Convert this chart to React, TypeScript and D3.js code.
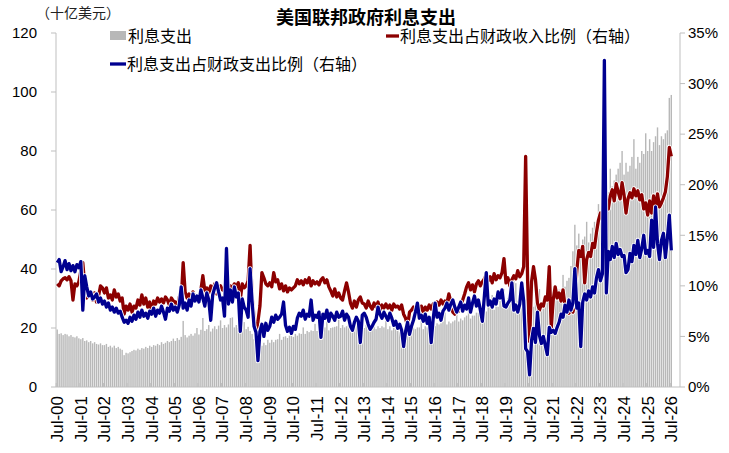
import React from "react";
import * as d3 from "d3";

// monthly categories, Jul-00 .. Jul-26
const monthNames = ["Jul", "Aug", "Sep", "Oct", "Nov", "Dec", "Jan", "Feb", "Mar", "Apr", "May", "Jun"];
const categories: string[] = [];
for (let k = 0; k <= 26; k++) {
  monthNames.forEach((m, j) => {
    const yy = k + (j >= 6 ? 1 : 0);
    categories.push(`${m}-${String(yy).padStart(2, "0")}`);
  });
}
categories.length = 313;

const tickLabels = [
  "Jul-00", "Jul-01", "Jul-02", "Jul-03", "Jul-04", "Jul-05", "Jul-06", "Jul-07", "Jul-08",
  "Jul-09", "Jul-10", "Jul-11", "Jul-12", "Jul-13", "Jul-14", "Jul-15", "Jul-16", "Jul-17",
  "Jul-18", "Jul-19", "Jul-20", "Jul-21", "Jul-22", "Jul-23", "Jul-24", "Jul-25", "Jul-26",
];

// 利息支出 (十亿美元), one row per Jul..Jun
const interest = [
  19.5, 18, 18.2, 17.6, 18, 17.8, 17.2, 17.6, 17, 16.8, 17.2, 16.5,
  16.2, 16.6, 15.6, 15.8, 15.2, 15.6, 14.8, 15.2, 14.6, 14.4, 14.8, 14.2,
  14.2, 14.6, 13.6, 14, 13.4, 14, 13.2, 13.6, 13, 12.6, 10.8, 11.6,
  11.4, 11.8, 12.2, 12.6, 12.4, 13, 12.6, 13.2, 13, 13.6, 13.2, 14,
  13.6, 14.2, 14, 14.6, 14.2, 15.2, 14.6, 15, 15.6, 15.2, 15.6, 16.4,
  15.6, 16.6, 16, 17, 22.4, 17.6, 16.8, 17.4, 18, 17.4, 18.2, 20,
  17.8, 19.4, 23.4, 19, 19.6, 21, 18.8, 19.8, 20.6, 19.6, 20.8, 22.6,
  20, 21, 20.2, 21.2, 23.4, 23.6, 20.2, 21, 20, 21.4, 20.6, 22,
  19.6, 20.4, 19, 18, 16.2, 16.8, 14.8, 15.2, 14, 15, 14.2, 16,
  15, 16, 15.2, 16, 16.2, 18, 16, 17, 17.2, 16.6, 17.4, 19,
  17, 18, 17.4, 18.2, 18, 20.2, 18, 19, 18.6, 19.2, 19, 21.4,
  19, 20, 19.2, 20, 20.2, 22.2, 19.2, 20, 20.2, 20.4, 20.6, 22.8,
  20, 21, 20.2, 20.6, 21, 23.2, 20.2, 21, 20.6, 21.2, 21, 23.2,
  20, 21, 19.6, 20.2, 20.6, 23, 19.6, 20.6, 20, 20.6, 20.2, 22.6,
  19.6, 20.6, 19.2, 20, 19.6, 22.2, 18.6, 19.6, 18.2, 19.2, 19.6, 22.2,
  19.2, 20.2, 19.6, 20.2, 20.2, 23.2, 19.6, 20.6, 20.2, 21.2, 21.2, 24.2,
  20.6, 21.6, 21.2, 21.6, 22.2, 25.2, 21.2, 22.2, 21.6, 22.2, 22.6, 26.2,
  22.2, 23.2, 22.6, 23.6, 24.2, 27.2, 23.2, 24.2, 24.2, 25.2, 25.2, 29.2,
  25.2, 26.2, 25.6, 27.2, 27.2, 31.2, 26.2, 27.6, 27.2, 29.2, 29.2, 33.2,
  28.2, 30.2, 29.2, 30.2, 36, 35.2, 29.2, 31.2, 30.2, 28.2, 27.2, 34.2,
  27.2, 28.2, 27.2, 28.6, 28.2, 33.2, 27.2, 29.2, 28.6, 30.2, 30.2, 36.2,
  31, 32, 30, 33, 33, 38, 34, 36, 37, 41, 46, 55,
  48, 52, 47, 50, 51, 56, 49, 52, 54, 56, 55, 62,
  58, 63, 62, 65, 66, 74, 68, 70, 72, 74, 76, 80,
  72, 76, 73, 75, 78, 84, 74, 78, 76, 80, 79, 86,
  80, 84, 80, 83, 85, 88, 82, 85, 84, 86, 87, 98,
  99,
];

// 利息支出占财政收入比例 (%)
const revenueShare = [
  10.2, 10.0, 10.5, 10.7, 10.8, 10.6, 10.9, 10.5, 8.6, 10.2, 10.0, 10.4,
  11.5, 12.3, 10.0, 8.8, 9.5, 9.0, 8.6, 9.3, 8.4, 9.0, 10.0, 9.8,
  9.3, 9.8, 8.8, 9.1, 8.6, 9.6, 8.9, 9.2, 8.5, 8.8, 7.2, 8.0,
  7.6, 8.2, 7.4, 8.0, 7.8, 8.6, 8.1, 9.1, 8.2, 8.8, 7.9, 8.4,
  7.4, 8.5, 8.2, 8.8, 8.4, 8.7, 8.3, 8.9, 8.6, 8.1, 8.8, 8.5,
  8.4, 7.9, 8.9, 8.6, 12.3, 9.4, 8.8, 9.2, 8.5, 9.4, 8.8, 9.0,
  8.9, 9.6, 11.0, 9.5, 9.8, 9.3, 10.0, 9.4, 10.2, 9.2, 9.8, 10.0,
  9.6, 9.5, 9.8, 10.1, 10.0, 9.7, 10.2, 9.9, 10.3, 8.6, 10.2, 9.8,
  10.0, 10.5, 14.0, 9.0, 6.9, 5.3, 6.5, 8.0, 11.3, 10.8, 10.2, 10.0,
  10.3, 9.9, 11.3, 10.4, 10.6, 9.7, 10.2, 9.5, 10.0, 9.4, 9.8, 9.6,
  9.8, 10.0, 10.6, 10.2, 10.5, 10.1, 10.6, 10.3, 10.8, 10.0, 10.5, 10.2,
  10.4, 10.1, 10.6, 10.8, 10.3, 10.6, 9.9, 9.5, 9.0, 9.7, 8.9, 9.3,
  8.8, 8.6, 9.5, 10.3, 9.4, 8.3, 7.8, 8.5, 7.9, 8.6, 8.9, 8.3,
  8.2, 7.8, 8.5, 8.0, 7.7, 8.3, 7.9, 8.4, 7.6, 8.1, 7.8, 8.2,
  7.8, 8.1, 7.6, 8.2, 7.9, 8.0, 7.7, 8.1, 7.2, 6.8, 6.0, 7.4,
  7.6, 7.9, 7.3, 7.8, 7.5, 8.0, 7.4, 7.9, 7.6, 8.1, 7.7, 8.2,
  8.0, 8.4, 8.1, 8.6, 8.2, 8.5, 8.3, 9.2, 8.4, 7.4, 7.2, 7.6,
  7.5, 7.9, 8.6, 9.2, 9.9, 10.3, 9.6, 10.1, 9.4, 10.2, 10.5, 10.0,
  10.4, 10.7, 11.1, 10.5, 10.9, 10.3, 11.2, 10.6, 11.0, 10.8, 11.3, 12.7,
  10.3, 10.8, 10.0, 10.6, 11.0, 10.7, 11.5, 10.9, 11.2, 11.9, 22.8, 10.5,
  4.5, 10.4, 11.9, 10.6, 8.3, 7.6, 8.2, 8.0, 8.9, 8.6, 11.9, 5.8,
  8.6, 9.9, 8.8, 9.3, 8.5, 9.6, 8.0, 7.6, 7.3, 7.9, 7.4, 8.2,
  11.5, 13.5, 12.9, 13.9, 10.3, 12.6, 13.3, 12.9, 14.2, 13.8, 15.3, 16.5,
  17.2, 16.5, 17.8, 18.4, 17.6, 18.9, 19.5, 18.4, 20.1, 19.3, 18.6, 20.2,
  19.0, 17.2, 18.6, 19.2, 18.7, 19.6, 18.9, 19.4, 18.5, 19.0, 17.6, 18.2,
  17.0, 18.4, 17.2, 18.9, 17.5, 19.1, 17.8, 18.2, 18.7, 19.3, 20.8, 23.7,
  22.8,
];

// 利息支出占财政支出比例 (%)
const outlayShare = [
  12.3, 12.6, 11.4, 11.9, 12.5, 11.6, 12.2, 11.5, 12.0, 11.4, 12.1, 11.8,
  12.4, 7.6, 11.0, 9.9, 9.0, 9.4, 8.7, 8.9, 9.2, 8.4, 8.8, 8.2,
  8.5, 7.9, 8.3, 7.6, 7.9, 7.4, 7.8, 7.3, 7.5, 6.9, 6.4, 6.6,
  6.3, 6.9, 6.5, 7.1, 6.7, 7.4, 6.9, 7.6, 7.0, 7.3, 6.8, 7.5,
  7.2, 7.8, 7.0, 7.6, 7.3, 8.0, 7.4, 6.7, 7.8, 7.5, 8.2, 7.6,
  7.9, 7.4, 8.1, 9.9, 7.8, 8.3, 7.6, 8.6, 8.0, 9.2, 8.5, 9.0,
  8.4, 9.6, 8.8, 8.0, 9.3, 8.6, 6.6, 9.1, 9.8, 10.3, 9.4, 8.6,
  8.8, 7.0, 13.7, 8.2, 9.6, 8.4, 9.9, 8.9, 9.3, 5.5, 8.7, 7.9,
  7.6, 6.9, 11.7, 8.5, 6.0, 5.4, 2.6, 5.5, 6.2, 5.0, 6.3, 5.6,
  6.0, 6.9, 6.4, 7.1, 6.7, 6.9, 7.2, 8.4, 6.1, 5.5, 5.9, 5.3,
  6.0, 5.7, 6.8, 7.3, 7.0, 7.6, 6.7, 7.2, 7.0, 8.6, 6.6, 7.1,
  6.9, 7.4, 4.9, 7.2, 6.8, 7.6, 6.5, 7.3, 7.0, 6.6, 7.4, 6.9,
  7.0, 7.5, 6.6, 7.2, 6.9, 6.0, 5.6, 6.4, 6.9, 6.5, 4.4, 7.1,
  7.3, 6.9, 6.2, 5.7, 6.0, 6.4, 6.7, 7.9, 7.2, 6.8, 7.4, 7.0,
  6.6, 7.3, 6.8, 6.1, 6.5, 5.8, 6.2, 5.6, 4.0, 5.5, 6.4, 5.2,
  6.0, 6.6, 7.4, 8.3, 6.8, 7.1, 6.5, 7.2, 6.3, 6.9, 4.4, 6.7,
  8.3, 6.9, 7.3, 6.6, 7.5, 7.8, 8.3, 7.6, 8.2, 8.6, 7.9, 7.4,
  7.9, 8.4, 7.5, 8.1, 7.7, 8.8, 7.4, 8.3, 9.0, 8.0, 8.6, 7.6,
  6.5, 8.9, 11.3, 8.1, 8.5, 7.9, 8.7, 8.2, 9.4, 8.8, 9.6, 8.0,
  7.9, 8.3, 8.6, 10.3, 7.6, 8.1, 7.4, 8.2, 10.3, 8.5, 3.8, 3.5,
  1.2, 4.6, 5.8, 4.4, 7.4, 5.1, 4.3, 5.0, 4.1, 3.2, 5.9, 5.4,
  5.6, 5.3, 5.9, 6.4, 7.2, 6.9, 8.1, 7.4, 8.6, 7.6, 8.3, 11.7,
  7.8, 8.3, 4.0, 8.4, 9.2, 8.6, 9.5, 8.9, 9.9, 9.3, 10.8, 11.6,
  10.5, 11.2, 32.3, 9.3, 13.4, 12.6, 13.9, 12.8, 14.2, 13.1, 13.6, 12.9,
  13.0, 11.3, 11.6, 13.2, 12.4, 14.0, 13.1, 14.5, 12.8, 13.7, 15.0, 13.2,
  13.5, 12.9, 16.5, 13.8, 17.8, 14.2, 12.6, 14.5, 15.2, 12.8, 14.7, 17.0,
  13.5,
];

const leftTicks = [0, 20, 40, 60, 80, 100, 120];
const rightTicks = [0, 5, 10, 15, 20, 25, 30, 35];

const RED = "#8c0000";
const BLUE = "#000090";
const BAR = "#b8b8b8";
const AXIS = "#bfbfbf";
const FONT = "Arial, 'Liberation Sans', 'Noto Sans CJK SC', sans-serif";

export default function App() {
  const W = 729;
  const H = 453;
  const left = 56;
  const right = 680;
  const top = 33;
  const bottom = 387;

  const x = d3.scaleBand<string>().domain(categories).range([56.5, 672]).paddingInner(0.28);
  const xc = (c: string) => (x(c) ?? 0) + x.bandwidth() / 2;
  const step = x.step();
  const yL = d3.scaleLinear().domain([0, 120]).range([bottom, top]);
  const yR = d3.scaleLinear().domain([0, 35]).range([bottom, top]);

  const line = d3
    .line<number>()
    .x((_, i) => xc(categories[i]))
    .y((d) => yR(d));

  return (
    <svg
      width={W}
      height={H}
      style={{ position: "absolute", left: 0, top: 0, background: "#fff" }}
      fontFamily={FONT}
    >
      <rect width={W} height={H} fill="#fff" />
      {/* title */}
      <text x={366} y={24} textAnchor="middle" fontSize={18} fontWeight="bold" fill="#000">
        美国联邦政府利息支出
      </text>
      <text x={36} y={18} fontSize={14} fill="#222">
        （十亿美元）
      </text>

      {/* bars */}
      <g>
        {interest.map((v, i) => (
          <rect
            key={i}
            x={x(categories[i])}
            y={yL(v)}
            width={x.bandwidth()}
            height={bottom - yL(v)}
            fill={BAR}
          />
        ))}
      </g>

      {/* axes */}
      <line x1={left} x2={left} y1={top} y2={bottom} stroke={AXIS} />
      <line x1={right} x2={right} y1={top} y2={bottom} stroke={AXIS} />
      <line x1={left} x2={right} y1={bottom} y2={bottom} stroke={AXIS} />
      {leftTicks.map((t) => (
        <g key={t} transform={`translate(0,${yL(t)})`}>
          <line x1={left - 5} x2={left} stroke={AXIS} />
          <text x={37} dy="0.35em" textAnchor="end" fontSize={15} fill="#000">
            {t}
          </text>
        </g>
      ))}
      {rightTicks.map((t) => (
        <g key={t} transform={`translate(0,${yR(t)})`}>
          <line x1={right} x2={right + 5} stroke={AXIS} />
          <text x={688} dy="0.35em" textAnchor="start" fontSize={15} fill="#000">
            {t}%
          </text>
        </g>
      ))}
      {tickLabels.map((t) => {
        const bx = (x(t) ?? 0) - (step - x.bandwidth()) / 2;
        return (
          <g key={t}>
            <line x1={bx} x2={bx} y1={bottom - 4} y2={bottom} stroke={AXIS} />
            <text
              transform={`translate(${xc(t)},396) rotate(-90)`}
              textAnchor="end"
              dy="0.35em"
              fontSize={17}
              fill="#000"
            >
              {t}
            </text>
          </g>
        );
      })}

      {/* lines */}
      <path d={line(revenueShare) ?? ""} fill="none" stroke="#fff" strokeWidth={5} strokeLinejoin="round" />
      <path d={line(revenueShare) ?? ""} fill="none" stroke={RED} strokeWidth={3.3} strokeLinejoin="round" />
      <path d={line(outlayShare) ?? ""} fill="none" stroke="#fff" strokeWidth={5} strokeLinejoin="round" />
      <path d={line(outlayShare) ?? ""} fill="none" stroke={BLUE} strokeWidth={3.3} strokeLinejoin="round" />

      {/* legend */}
      <rect x={110} y={31} width={16} height={9} fill={BAR} />
      <text x={128} y={36} dy="0.35em" fontSize={16} fill="#000">利息支出</text>
      <line x1={386} x2={399} y1={36} y2={36} stroke={RED} strokeWidth={3.3} />
      <text x={400} y={36} dy="0.35em" fontSize={16} fill="#000">利息支出占财政收入比例（右轴）</text>
      <line x1={110} x2={126} y1={64} y2={64} stroke={BLUE} strokeWidth={3.3} />
      <text x={127} y={64} dy="0.35em" fontSize={16} fill="#000">利息支出占财政支出比例（右轴）</text>
    </svg>
  );
}
